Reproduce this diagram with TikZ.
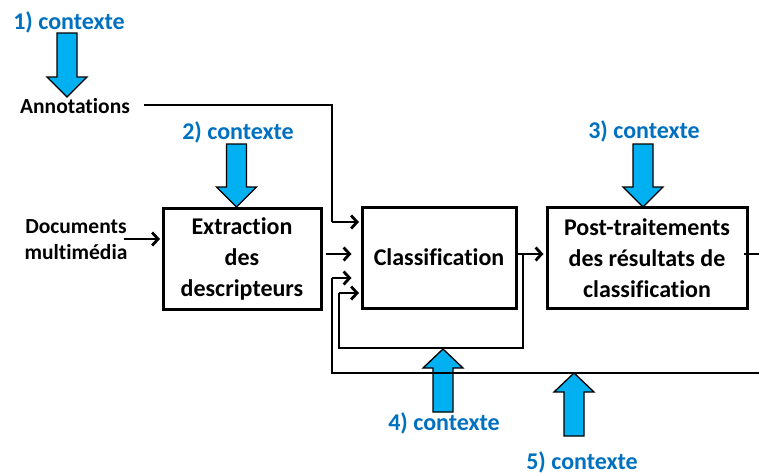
\documentclass[tikz,border=0pt]{standalone}
\usepackage{fontspec}
\setmainfont{Carlito}[Ligatures=NoCommon]
\usetikzlibrary{arrows.meta}
\definecolor{ctxblue}{RGB}{0,112,192}
\definecolor{ctxfill}{RGB}{0,176,240}
\tikzset{
  box/.style={draw, line width=3pt, inner sep=0pt, align=center,
    minimum height=101pt, font=\fontsize{24}{31}\selectfont\bfseries},
  lbl/.style={inner sep=0pt, align=center, font=\fontsize{21.5}{26}\selectfont\bfseries},
  ctx/.style={inner sep=0pt, text=ctxblue, font=\fontsize{24}{28}\selectfont\bfseries},
  conn/.style={line width=2.8pt, -{Straight Barb[length=6pt,width=13pt]}},
  line/.style={line width=2.8pt},
  blk/.style={fill=ctxfill, draw=black, line width=1.3pt, line join=miter},
}
\newcommand{\blkdown}[3]{% x, ytop, ytip
  \draw[blk] (#1-10,#2) -- (#1+10,#2) -- (#1+10,#3-20) -- (#1+20,#3-20) -- (#1,#3)
    -- (#1-20,#3-20) -- (#1-10,#3-20) -- cycle;}
\newcommand{\blkup}[3]{% x, ybottom, ytip
  \draw[blk] (#1-10,#2) -- (#1+10,#2) -- (#1+10,#3+19) -- (#1+20,#3+19) -- (#1,#3)
    -- (#1-20,#3+19) -- (#1-10,#3+19) -- cycle;}
\begin{document}
\begin{tikzpicture}[x=1pt,y=-1pt]
\useasboundingbox (0,0) rectangle (759,475);
\clip (0,0) rectangle (759,475);

% boxes
\node[box, minimum width=158pt] (extr) at (242,258.5) {Extraction\\des\\descripteurs};
\node[box, minimum width=154pt] (class) at (439,257.5) {Classification};
\node[box, minimum width=200pt] (post) at (647,258) {Post-traitements\\des résultats de\\classification};

% side labels
\node[lbl] (ann) at (75,106) {Annotations};
\node[lbl] (doc) at (76,240) {Documents\\multimédia};

% context labels
\node[ctx] (c1) at (69,22) {1) contexte};
\node[ctx] (c2) at (238,132) {2) contexte};
\node[ctx] (c3) at (644,131) {3) contexte};
\node[ctx] (c4) at (444,423) {4) contexte};
\node[ctx] (c5) at (582,462) {5) contexte};

% block arrows
\blkdown{67}{33}{97}
\blkdown{236.5}{144}{207}
\blkdown{643}{144}{207}
\blkup{443}{412}{349}
\blkup{574}{436}{373}

% coordinates
\coordinate (annbend) at (332,105);
\coordinate (annin) at (332,222);
\coordinate (outA) at (332,373);
\coordinate (outB) at (332,278);
\coordinate (outR) at (775,373);
\coordinate (loopA) at (523,254);
\coordinate (loopB) at (523,348);
\coordinate (loopC) at (339,348);
\coordinate (loopD) at (339,293);
\coordinate (postout) at (768,254);

% connectors
\draw[line, shorten <=14pt] (ann.east |- annbend) -- (annbend) -- (annin);
\draw[conn, shorten >=1.5pt] (annin) -- (annin -| class.west);
\draw[conn, shorten >=1.5pt] ([xshift=-4pt]doc.east |- 0,239) -- (extr.west |- 0,239);
\draw[conn, shorten <=3pt, shorten >=9pt] (extr.east |- 0,254) -- (class.west |- 0,254);
\draw[conn, shorten >=2pt] (class.east |- 0,254) -- (post.west |- 0,254);
\draw[line] (loopA) -- (loopB) -- (loopC) -- (loopD);
\draw[conn, shorten >=1.5pt] (loopD) -- (loopD -| class.west);
\draw[line] (outR) -- (outA) -- (outB);
\draw[conn, shorten >=9pt] (outB) -- (outB -| class.west);
\draw[conn, shorten <=-5pt] (post.east |- 0,254) -- (postout);
\end{tikzpicture}
\end{document}
